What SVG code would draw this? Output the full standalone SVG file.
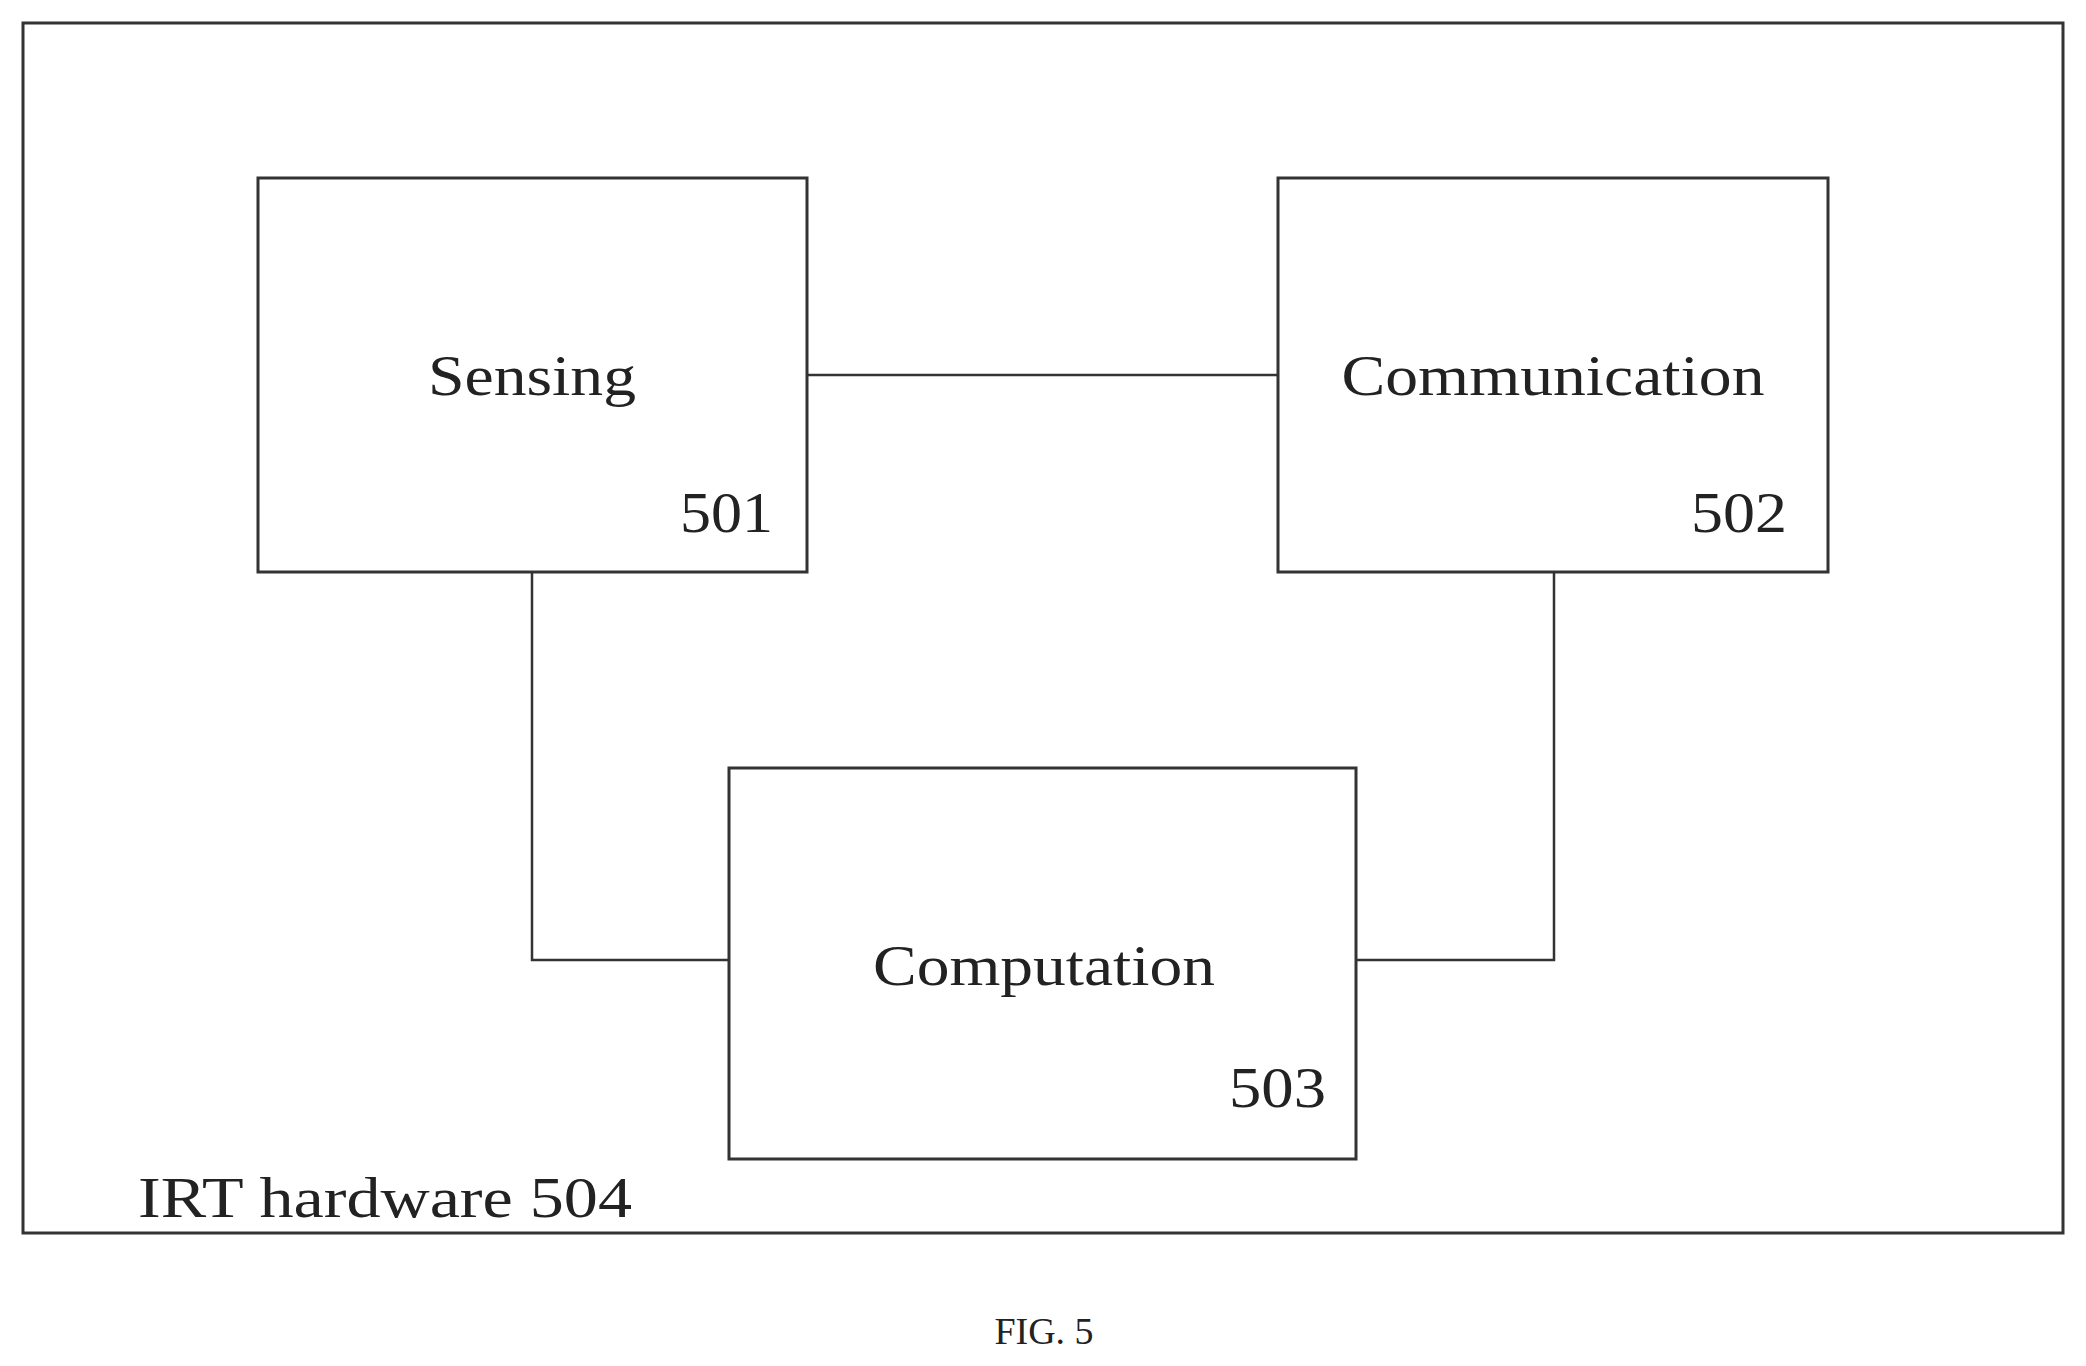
<svg xmlns="http://www.w3.org/2000/svg" width="2086" height="1366" viewBox="0 0 2086 1366">
<style>
.b{fill:#fff;stroke:#333;stroke-width:3}
.c{fill:none;stroke:#333;stroke-width:2.5}
text{font-family:"Liberation Serif","DejaVu Serif",serif;fill:#222}
.l{font-size:58px}
.n{font-size:56px}
</style>
<rect width="2086" height="1366" fill="#fff"/>
<g id="frame"><rect class="b" x="23" y="23" width="2040" height="1210"/>
<text class="l" x="138" y="1217" textLength="494" lengthAdjust="spacingAndGlyphs">IRT hardware  504</text></g>
<g id="connectors">
<line class="c" x1="807" y1="375" x2="1278" y2="375"/>
<polyline class="c" points="532,572 532,960 729,960"/>
<polyline class="c" points="1554,572 1554,960 1356,960"/>
</g>
<g id="n501"><rect class="b" x="258" y="178" width="549" height="394"/>
<text class="l" x="532" y="395" text-anchor="middle" textLength="208" lengthAdjust="spacingAndGlyphs">Sensing</text>
<text class="n" x="680" y="532" textLength="93" lengthAdjust="spacingAndGlyphs">501</text></g>
<g id="n502"><rect class="b" x="1278" y="178" width="550" height="394"/>
<text class="l" x="1553" y="395" text-anchor="middle" textLength="423" lengthAdjust="spacingAndGlyphs">Communication</text>
<text class="n" x="1691" y="532" textLength="96" lengthAdjust="spacingAndGlyphs">502</text></g>
<g id="n503"><rect class="b" x="729" y="768" width="627" height="391"/>
<text class="l" x="1044" y="985" text-anchor="middle" textLength="342" lengthAdjust="spacingAndGlyphs">Computation</text>
<text class="n" x="1229" y="1107" textLength="97" lengthAdjust="spacingAndGlyphs">503</text></g>
<text x="1044" y="1344" text-anchor="middle" font-size="38">FIG. 5</text>
</svg>
